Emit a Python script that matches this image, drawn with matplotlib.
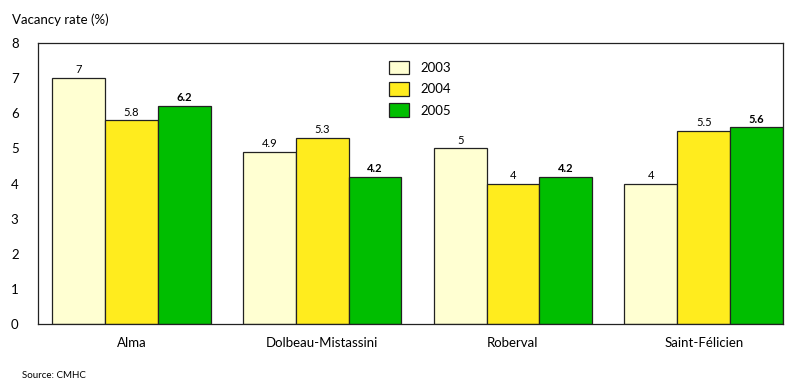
import numpy as np
import matplotlib
matplotlib.use("Agg")
import matplotlib.pyplot as plt

plt.rcParams["font.family"] = ["Lato", "DejaVu Sans"]

centres = ["Alma", "Dolbeau-Mistassini", "Roberval", "Saint-Félicien"]
years = ["2003", "2004", "2005"]
rate_2003 = [7, 4.9, 5, 4]
rate_2004 = [5.8, 5.3, 4, 5.5]
rate_2005 = [6.2, 4.2, 4.2, 5.6]

colors = ["#FFFFD2", "#FFEC1E", "#00BE00"]
series = [rate_2003, rate_2004, rate_2005]

fig = plt.figure(figsize=(7.87, 3.81), dpi=100)
ax = fig.add_axes([0.0483, 0.1496, 0.9467, 0.7374])

x = np.arange(len(centres))
w = 0.277
for i, (vals, yr, c) in enumerate(zip(series, years, colors)):
    pos = x + (i - 1) * w
    bars = ax.bar(pos, vals, w, color=c, edgecolor="#222222", linewidth=0.9, label=yr)
    for b, v in zip(bars, vals):
        ax.text(b.get_x() + b.get_width() / 2, v + 0.08, f"{v:g}",
                ha="center", va="bottom", fontsize=8,
                fontweight="bold" if yr == "2005" else "normal")

ax.set_xlim(-0.49, 3.416)
ax.set_ylim(0, 8)
ax.set_yticks(range(0, 9))
ax.set_xticks(x)
ax.set_xticklabels(centres, fontsize=9.5)
ax.tick_params(axis="both", length=0, labelsize=9.5)
ax.tick_params(axis="y", pad=14)
ax.tick_params(axis="x", pad=9)
for s in ax.spines.values():
    s.set_color("#222222")
    s.set_linewidth(0.9)

ax.legend(loc="upper left", bbox_to_anchor=(0.455, 0.98), frameon=False,
          fontsize=9.5, handlelength=1.5, handleheight=1.2, labelspacing=0.6,
          handletextpad=0.9)

fig.text(12 / 787, 1 - 20 / 381, "Vacancy rate (%)", fontsize=9.5, va="center")
fig.text(22 / 787, 1 - 376 / 381, "Source: CMHC", fontsize=7, va="center")

fig.savefig("out.png", dpi=100)
